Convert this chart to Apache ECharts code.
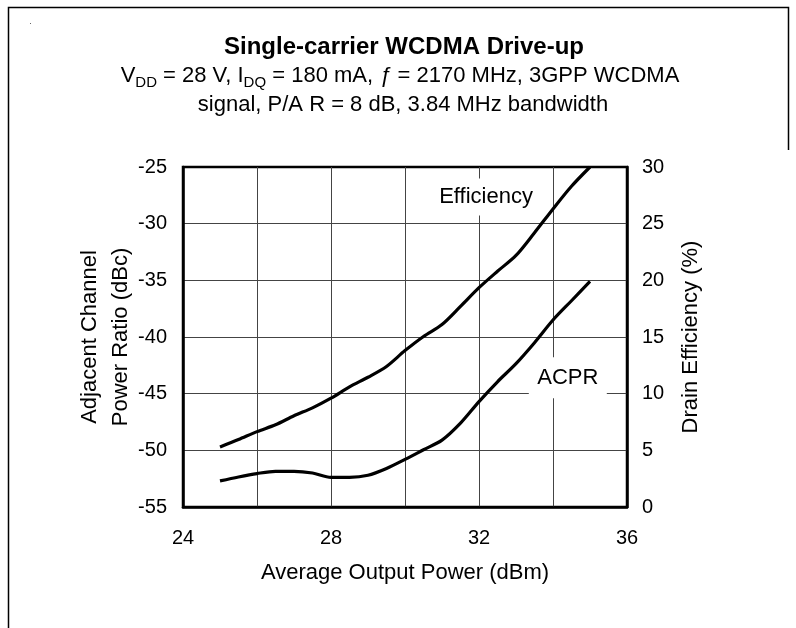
<!DOCTYPE html>
<html>
<head>
<meta charset="utf-8">
<script src="https://cdn.jsdelivr.net/npm/echarts@6/dist/echarts.min.js"></script>
<style>
html,body{margin:0;padding:0;background:#fff;}
#chart{width:796px;height:628px;}
</style>
</head>
<body>
<div id="chart"></div>
<script>
// ---- data ----
const powerDbm = [25, 25.5, 26, 26.5, 27, 27.5, 28, 28.5, 29, 29.5, 30, 30.5, 31, 31.5, 32, 32.5, 33, 33.5, 34, 34.5, 35];
const acprDbc = [-52.7, -52.35, -52.05, -51.85, -51.85, -52.0, -52.38, -52.38, -52.2, -51.6, -50.8, -49.95, -49.1, -47.6, -45.7, -43.95, -42.35, -40.5, -38.5, -36.8, -35.1];
const efficiencyPct = [5.3, 5.95, 6.65, 7.25, 8.05, 8.75, 9.6, 10.6, 11.45, 12.4, 13.8, 15.05, 16.1, 17.7, 19.35, 20.8, 22.2, 24.2, 26.3, 28.3, 30.0];
const xTickLabels = [24, 28, 32, 36];
const titleText = 'Single-carrier WCDMA Drive-up';
const leftAxisName = 'Adjacent Channel\nPower Ratio (dBc)';
const rightAxisName = 'Drain Efficiency (%)';
const xAxisName = 'Average Output Power (dBm)';

const FONT = '"Liberation Sans", Arial, sans-serif';
const chart = echarts.init(document.getElementById('chart'), null, {renderer: 'canvas'});

const acprData = powerDbm.map((p, i) => [p, acprDbc[i]]);
const effData = powerDbm.map((p, i) => [p, efficiencyPct[i]]);

const option = {
  backgroundColor: '#fff',
  animation: false,
  textStyle: {fontFamily: FONT},
  grid: {
    left: 183, right: 169, top: 167, bottom: 121,
    show: true, borderColor: '#000', borderWidth: 2.5, backgroundColor: 'transparent'
  },
  graphic: [
    {type: 'polyline', shape: {points: [[788.5, 150], [788.5, 7.5], [8.5, 7.5], [8.5, 628]]},
     style: {stroke: '#000', lineWidth: 1.5, fill: null}},
    {type: 'rect', shape: {x: 30, y: 23, width: 1, height: 1}, style: {fill: '#666'}},
    {type: 'text', x: 404, y: 47,
     style: {text: titleText, font: 'bold 24px ' + FONT, fill: '#000',
             textAlign: 'center', textVerticalAlign: 'middle', align: 'center', verticalAlign: 'middle'}},
    {type: 'text', x: 400, y: 76,
     style: {
       text: '{n|V}{s|DD}{n| = 28 V, I}{s|DQ}{n| = 180 mA, }{i|ƒ}{n| = 2170 MHz, 3GPP WCDMA}',
       textAlign: 'center', textVerticalAlign: 'middle', align: 'center', verticalAlign: 'middle',
       rich: {
         n: {fontSize: 22, fontFamily: FONT, lineHeight: 28, fill: '#000', color: '#000'},
         i: {fontSize: 22, fontFamily: FONT, fontStyle: 'italic', lineHeight: 28, fill: '#000', color: '#000'},
         s: {fontSize: 15, fontFamily: FONT, lineHeight: 15, verticalAlign: 'bottom', fill: '#000', color: '#000'}
       }
     }},
    {type: 'text', x: 403, y: 105,
     style: {text: 'signal, P/A R = 8 dB, 3.84 MHz bandwidth', font: '22px ' + FONT, fill: '#000',
             textAlign: 'center', textVerticalAlign: 'middle', align: 'center', verticalAlign: 'middle'}}
  ],
  xAxis: {
    type: 'value', min: 24, max: 36, interval: 2,
    name: xAxisName, nameLocation: 'middle', nameGap: 55, nameMoveOverlap: false,
    nameTextStyle: {fontSize: 22, color: '#000', fontFamily: FONT},
    axisLine: {show: true, lineStyle: {color: '#000', width: 2.5}},
    axisTick: {show: false},
    axisLabel: {
      fontSize: 20, color: '#000', margin: 21, fontFamily: FONT,
      formatter: v => (xTickLabels.indexOf(v) >= 0 ? String(v) : '')
    },
    splitLine: {show: true, showMinLine: false, showMaxLine: false, lineStyle: {color: '#444', width: 1}}
  },
  yAxis: [
    {
      type: 'value', position: 'left', min: -55, max: -25, interval: 5,
      name: leftAxisName, nameLocation: 'middle', nameRotate: 90, nameGap: 47, nameMoveOverlap: false,
      nameTextStyle: {fontSize: 22, color: '#000', lineHeight: 31, fontFamily: FONT, align: 'center'},
      axisLine: {show: true, lineStyle: {color: '#000', width: 2.5}},
      axisTick: {show: false},
      axisLabel: {fontSize: 20, color: '#000', margin: 16, fontFamily: FONT},
      splitLine: {show: true, showMinLine: false, showMaxLine: false, lineStyle: {color: '#444', width: 1}}
    },
    {
      type: 'value', position: 'right', min: 0, max: 30, interval: 5,
      name: rightAxisName, nameLocation: 'middle', nameRotate: 90, nameGap: 53, nameMoveOverlap: false,
      nameTextStyle: {fontSize: 22, color: '#000', fontFamily: FONT},
      axisLine: {show: true, lineStyle: {color: '#000', width: 2.5}},
      axisTick: {show: false},
      axisLabel: {fontSize: 20, color: '#000', margin: 15, fontFamily: FONT},
      splitLine: {show: false}
    }
  ],
  series: [
    {
      name: 'ACPR', type: 'line', yAxisIndex: 0, data: acprData,
      smooth: 0.3, showSymbol: false, symbol: 'none',
      lineStyle: {color: '#000', width: 3.2}, z: 3,
      markPoint: {
        silent: true, symbol: 'rect', symbolSize: [78, 41], z: 2,
        itemStyle: {color: '#fff'},
        label: {show: true, position: 'inside', formatter: 'ACPR', color: '#000', fontSize: 22, fontFamily: FONT},
        data: [{coord: [34.4, -43.6]}]
      }
    },
    {
      name: 'Efficiency', type: 'line', yAxisIndex: 1, data: effData,
      smooth: 0.3, showSymbol: false, symbol: 'none',
      lineStyle: {color: '#000', width: 3.2}, z: 3,
      markPoint: {
        silent: true, symbol: 'rect', symbolSize: [115, 37], z: 2,
        itemStyle: {color: '#fff'},
        label: {show: true, position: 'inside', formatter: 'Efficiency', color: '#000', fontSize: 22, fontFamily: FONT},
        data: [{coord: [32.19, 27.35]}]
      }
    }
  ]
};
chart.setOption(option);
</script>
</body>
</html>
